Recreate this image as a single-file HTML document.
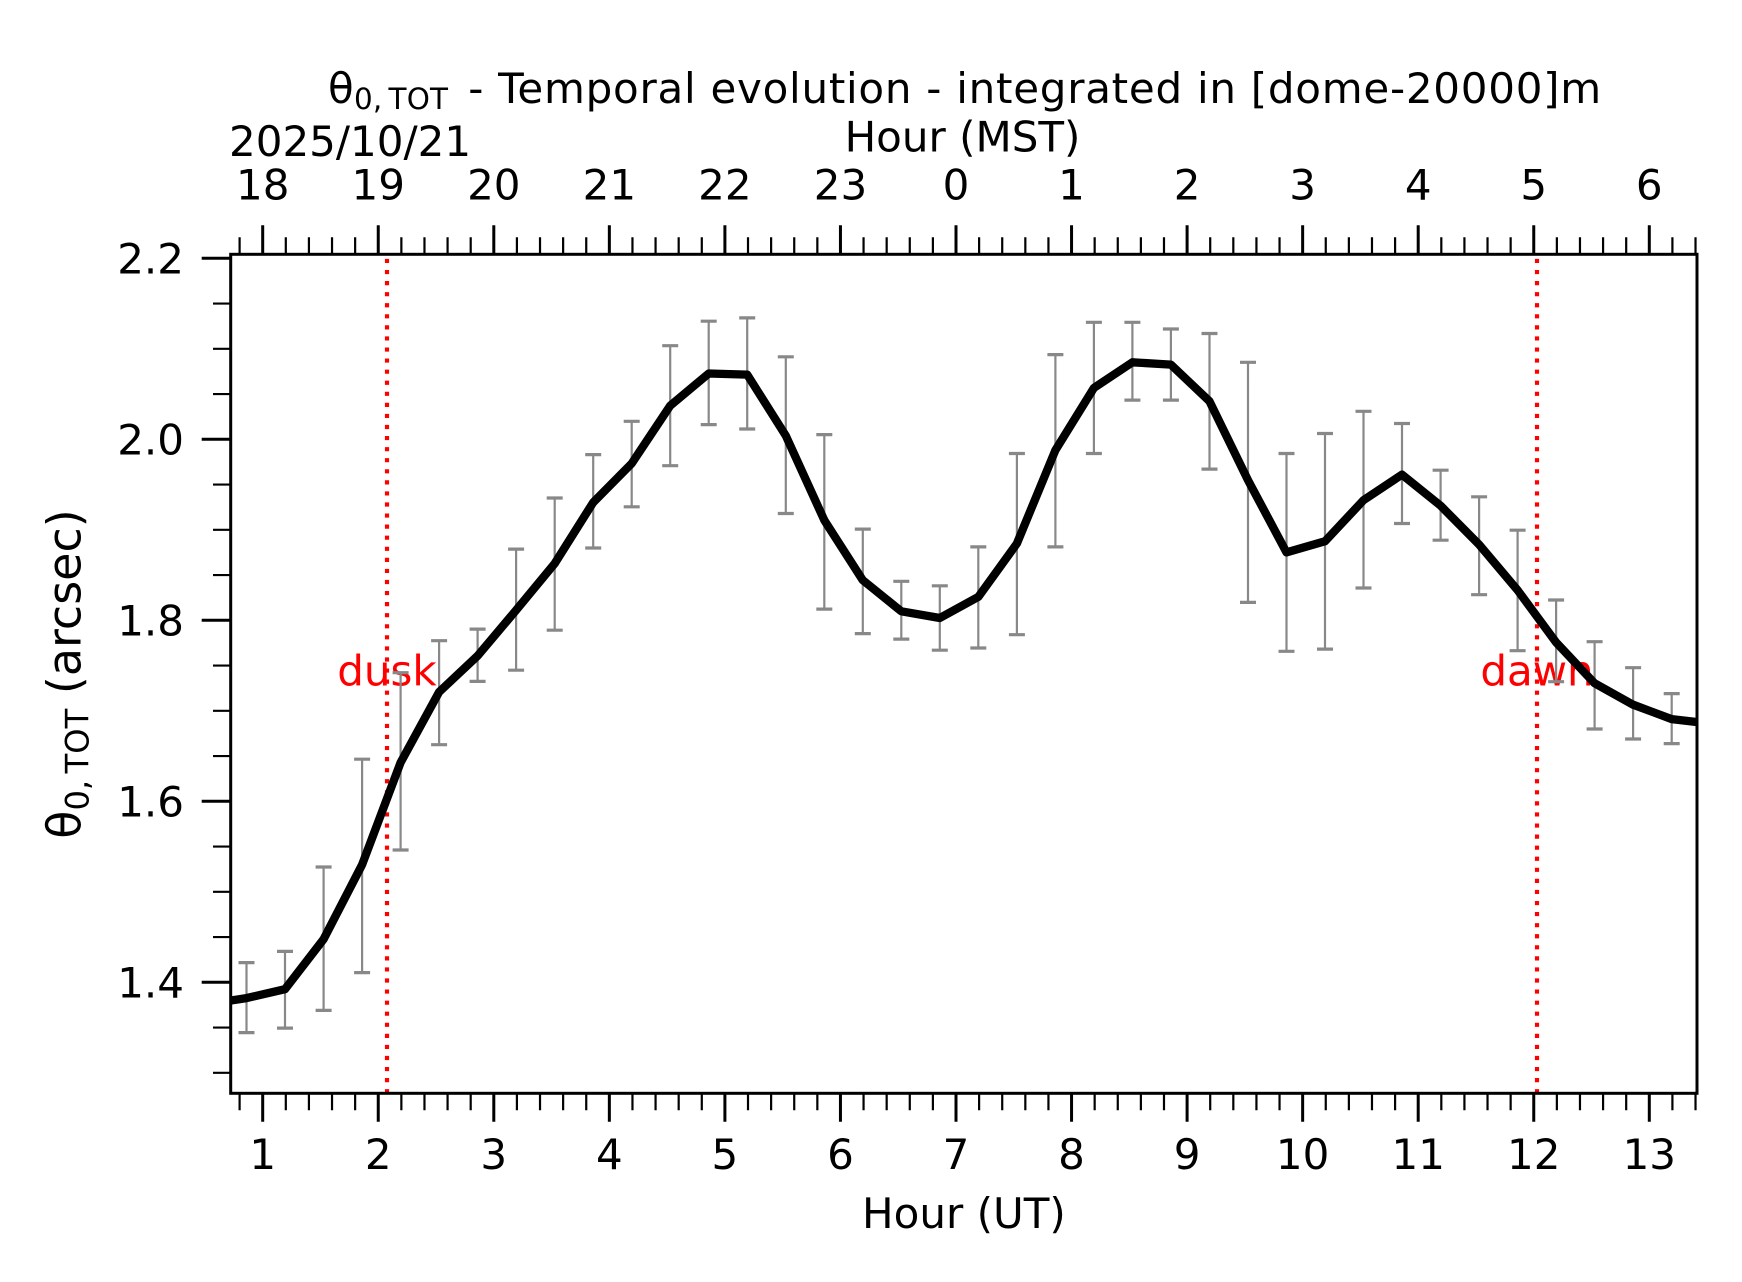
<!DOCTYPE html>
<html><head><meta charset="utf-8"><style>
html,body{margin:0;padding:0;background:#fff}
svg{display:block}
text{font-family:"DejaVu Sans","Liberation Sans",sans-serif;fill:#000}
</style></head><body>
<svg width="1742" height="1282" viewBox="0 0 1742 1282" xmlns="http://www.w3.org/2000/svg">
<rect width="1742" height="1282" fill="#fff"/>
<defs><clipPath id="ax"><rect x="230.7" y="254.3" width="1466.3" height="839"/></clipPath></defs>

<!-- title -->
<text x="328" y="103" font-size="42">θ</text>
<text x="354" y="109" font-size="29.4" textLength="94" lengthAdjust="spacing">0,&#8201;TOT</text>
<text x="468.2" y="103" font-size="42" textLength="1133" lengthAdjust="spacing">- Temporal evolution - integrated in [dome-20000]m</text>
<text x="962.5" y="151.7" font-size="42" text-anchor="middle">Hour (MST)</text>
<text x="229" y="156" font-size="42">2025/10/21</text>

<!-- top tick labels -->
<g font-size="42" text-anchor="middle">
<text x="262.7" y="199.5">18</text><text x="378.25" y="199.5">19</text><text x="493.8" y="199.5">20</text><text x="609.35" y="199.5">21</text><text x="724.9" y="199.5">22</text><text x="840.45" y="199.5">23</text><text x="956" y="199.5">0</text><text x="1071.55" y="199.5">1</text><text x="1187.1" y="199.5">2</text><text x="1302.65" y="199.5">3</text><text x="1418.2" y="199.5">4</text><text x="1533.75" y="199.5">5</text><text x="1649.3" y="199.5">6</text>
</g>
<!-- bottom tick labels -->
<g font-size="42" text-anchor="middle">
<text x="262.7" y="1169">1</text><text x="378.25" y="1169">2</text><text x="493.8" y="1169">3</text><text x="609.35" y="1169">4</text><text x="724.9" y="1169">5</text><text x="840.45" y="1169">6</text><text x="956" y="1169">7</text><text x="1071.55" y="1169">8</text><text x="1187.1" y="1169">9</text><text x="1302.65" y="1169">10</text><text x="1418.2" y="1169">11</text><text x="1533.75" y="1169">12</text><text x="1649.3" y="1169">13</text>
</g>
<text x="963.9" y="1228" font-size="42" text-anchor="middle">Hour (UT)</text>
<!-- left tick labels -->
<g font-size="42" text-anchor="end">
<text x="184" y="273.6">2.2</text><text x="184" y="454.6">2.0</text><text x="184" y="635.6">1.8</text><text x="184" y="816.6">1.6</text><text x="184" y="997.6">1.4</text>
</g>
<!-- y label -->
<text transform="translate(80.7,674) rotate(-90)" font-size="46" text-anchor="middle">θ<tspan font-size="32.2" dy="8">0,&#8201;TOT</tspan><tspan dy="-8" font-size="46"> (arcsec)</tspan></text>

<!-- dusk / dawn -->
<line x1="387" y1="1093.3" x2="387" y2="254.3" stroke="#ff0000" stroke-width="4.17" stroke-dasharray="4.17 6.9"/>
<line x1="1537" y1="1093.3" x2="1537" y2="254.3" stroke="#ff0000" stroke-width="4.17" stroke-dasharray="4.17 6.9"/>
<text x="387" y="685.5" font-size="42" text-anchor="middle" style="fill:#ff0000">dusk</text>
<text x="1537" y="685.5" font-size="42" text-anchor="middle" style="fill:#ff0000">dawn</text>

<g clip-path="url(#ax)">
<!-- error bars -->
<path fill="none" stroke="#888" stroke-width="2.2" d="M246.5 962.6V1032.6M285 951.4V1028.1M323.6 867V1010.4M362.1 759.2V972.6M400.6 672.7V850M439.1 640.7V744.7M477.6 629.1V681.4M516.1 549.1V670.2M554.7 498V630.2M593.2 454.6V548M631.7 421.3V506.8M670.2 345.7V465.7M708.7 321.2V424.6M747.2 317.9V429M785.8 356.8V513.5M824.3 434.6V609.1M862.8 529.1V633.6M901.3 581.3V639.1M939.8 585.8V650.2M978.3 546.9V648M1016.9 453.5V634.7M1055.4 354.6V546.9M1093.9 322.3V453.5M1132.4 322.3V400.1M1170.9 329V400.1M1209.5 333.5V469.1M1248 362.3V602.4M1286.5 453.5V651.3M1325 433.5V649.1M1363.5 411.3V588M1402 423.5V523.5M1440.6 470.2V540.2M1479.1 496.8V594.7M1517.6 530.2V650.7M1556.1 600V681.7M1594.6 641.7V729M1633.1 667.7V739M1671.7 693.6V743.6"/>
<path fill="none" stroke="#888" stroke-width="3.2" d="M238.5 962.6h16M238.5 1032.6h16M277 951.4h16M277 1028.1h16M315.6 867h16M315.6 1010.4h16M354.1 759.2h16M354.1 972.6h16M392.6 672.7h16M392.6 850h16M431.1 640.7h16M431.1 744.7h16M469.6 629.1h16M469.6 681.4h16M508.1 549.1h16M508.1 670.2h16M546.7 498h16M546.7 630.2h16M585.2 454.6h16M585.2 548h16M623.7 421.3h16M623.7 506.8h16M662.2 345.7h16M662.2 465.7h16M700.7 321.2h16M700.7 424.6h16M739.2 317.9h16M739.2 429h16M777.8 356.8h16M777.8 513.5h16M816.3 434.6h16M816.3 609.1h16M854.8 529.1h16M854.8 633.6h16M893.3 581.3h16M893.3 639.1h16M931.8 585.8h16M931.8 650.2h16M970.3 546.9h16M970.3 648h16M1008.9 453.5h16M1008.9 634.7h16M1047.4 354.6h16M1047.4 546.9h16M1085.9 322.3h16M1085.9 453.5h16M1124.4 322.3h16M1124.4 400.1h16M1162.9 329h16M1162.9 400.1h16M1201.5 333.5h16M1201.5 469.1h16M1240 362.3h16M1240 602.4h16M1278.5 453.5h16M1278.5 651.3h16M1317 433.5h16M1317 649.1h16M1355.5 411.3h16M1355.5 588h16M1394 423.5h16M1394 523.5h16M1432.6 470.2h16M1432.6 540.2h16M1471.1 496.8h16M1471.1 594.7h16M1509.6 530.2h16M1509.6 650.7h16M1548.1 600h16M1548.1 681.7h16M1586.6 641.7h16M1586.6 729h16M1625.1 667.7h16M1625.1 739h16M1663.7 693.6h16M1663.7 743.6h16"/>
<!-- main line -->
<path fill="none" stroke="#000" stroke-width="8.3" stroke-linejoin="round" d="M208 1004L246.5 998.1L285 989.2L323.6 939.2L362.1 864.7L400.6 762.5L439.1 692L477.6 655.8L516.1 610.2L554.7 563.5L593.2 502.4L631.7 463.5L670.2 405.7L708.7 373.5L747.2 374.6L785.8 435.7L824.3 520.2L862.8 580.2L901.3 611.3L939.8 618L978.3 596.9L1016.9 543.5L1055.4 450.2L1093.9 387.9L1132.4 362.3L1170.9 364.6L1209.5 401.3L1248 480.2L1286.5 552.4L1325 541.3L1363.5 500.2L1402 474.6L1440.6 505.7L1479.1 544.6L1517.6 590.2L1556.1 642.4L1594.6 683.3L1633.1 704.7L1671.7 719.1L1710.2 723.6"/>
</g>

<!-- frame -->
<rect x="230.7" y="254.3" width="1466.3" height="839" fill="none" stroke="#000" stroke-width="3"/>

<!-- major ticks bottom & top -->
<path fill="none" stroke="#000" stroke-width="3" d="M262.7 1093.3v28.5M378.25 1093.3v28.5M493.8 1093.3v28.5M609.35 1093.3v28.5M724.9 1093.3v28.5M840.45 1093.3v28.5M956 1093.3v28.5M1071.55 1093.3v28.5M1187.1 1093.3v28.5M1302.65 1093.3v28.5M1418.2 1093.3v28.5M1533.75 1093.3v28.5M1649.3 1093.3v28.5
M262.7 254.3v-29M378.25 254.3v-29M493.8 254.3v-29M609.35 254.3v-29M724.9 254.3v-29M840.45 254.3v-29M956 254.3v-29M1071.55 254.3v-29M1187.1 254.3v-29M1302.65 254.3v-29M1418.2 254.3v-29M1533.75 254.3v-29M1649.3 254.3v-29
M201.7 258.3H230.7M201.7 439.3H230.7M201.7 620.3H230.7M201.7 801.3H230.7M201.7 982.3H230.7"/>
<!-- minor ticks -->
<path fill="none" stroke="#000" stroke-width="2.2" d="M239.6 1093.3v17M285.81 1093.3v17M308.92 1093.3v17M332.03 1093.3v17M355.14 1093.3v17M401.36 1093.3v17M424.47 1093.3v17M447.58 1093.3v17M470.69 1093.3v17M516.91 1093.3v17M540.02 1093.3v17M563.13 1093.3v17M586.24 1093.3v17M632.46 1093.3v17M655.57 1093.3v17M678.68 1093.3v17M701.79 1093.3v17M748.01 1093.3v17M771.12 1093.3v17M794.23 1093.3v17M817.34 1093.3v17M863.56 1093.3v17M886.67 1093.3v17M909.78 1093.3v17M932.89 1093.3v17M979.11 1093.3v17M1002.22 1093.3v17M1025.33 1093.3v17M1048.44 1093.3v17M1094.66 1093.3v17M1117.77 1093.3v17M1140.88 1093.3v17M1163.99 1093.3v17M1210.21 1093.3v17M1233.32 1093.3v17M1256.43 1093.3v17M1279.54 1093.3v17M1325.76 1093.3v17M1348.87 1093.3v17M1371.98 1093.3v17M1395.09 1093.3v17M1441.31 1093.3v17M1464.42 1093.3v17M1487.53 1093.3v17M1510.64 1093.3v17M1556.86 1093.3v17M1579.97 1093.3v17M1603.08 1093.3v17M1626.19 1093.3v17M1672.41 1093.3v17M1695.52 1093.3v17
M239.6 254.3v-17M285.81 254.3v-17M308.92 254.3v-17M332.03 254.3v-17M355.14 254.3v-17M401.36 254.3v-17M424.47 254.3v-17M447.58 254.3v-17M470.69 254.3v-17M516.91 254.3v-17M540.02 254.3v-17M563.13 254.3v-17M586.24 254.3v-17M632.46 254.3v-17M655.57 254.3v-17M678.68 254.3v-17M701.79 254.3v-17M748.01 254.3v-17M771.12 254.3v-17M794.23 254.3v-17M817.34 254.3v-17M863.56 254.3v-17M886.67 254.3v-17M909.78 254.3v-17M932.89 254.3v-17M979.11 254.3v-17M1002.22 254.3v-17M1025.33 254.3v-17M1048.44 254.3v-17M1094.66 254.3v-17M1117.77 254.3v-17M1140.88 254.3v-17M1163.99 254.3v-17M1210.21 254.3v-17M1233.32 254.3v-17M1256.43 254.3v-17M1279.54 254.3v-17M1325.76 254.3v-17M1348.87 254.3v-17M1371.98 254.3v-17M1395.09 254.3v-17M1441.31 254.3v-17M1464.42 254.3v-17M1487.53 254.3v-17M1510.64 254.3v-17M1556.86 254.3v-17M1579.97 254.3v-17M1603.08 254.3v-17M1626.19 254.3v-17M1672.41 254.3v-17M1695.52 254.3v-17
M213 303.55H230.7M213 348.8H230.7M213 394.05H230.7M213 484.55H230.7M213 529.8H230.7M213 575.05H230.7M213 665.55H230.7M213 710.8H230.7M213 756.05H230.7M213 846.55H230.7M213 891.8H230.7M213 937.05H230.7M213 1027.55H230.7M213 1072.8H230.7"/>
</svg>
</body></html>
